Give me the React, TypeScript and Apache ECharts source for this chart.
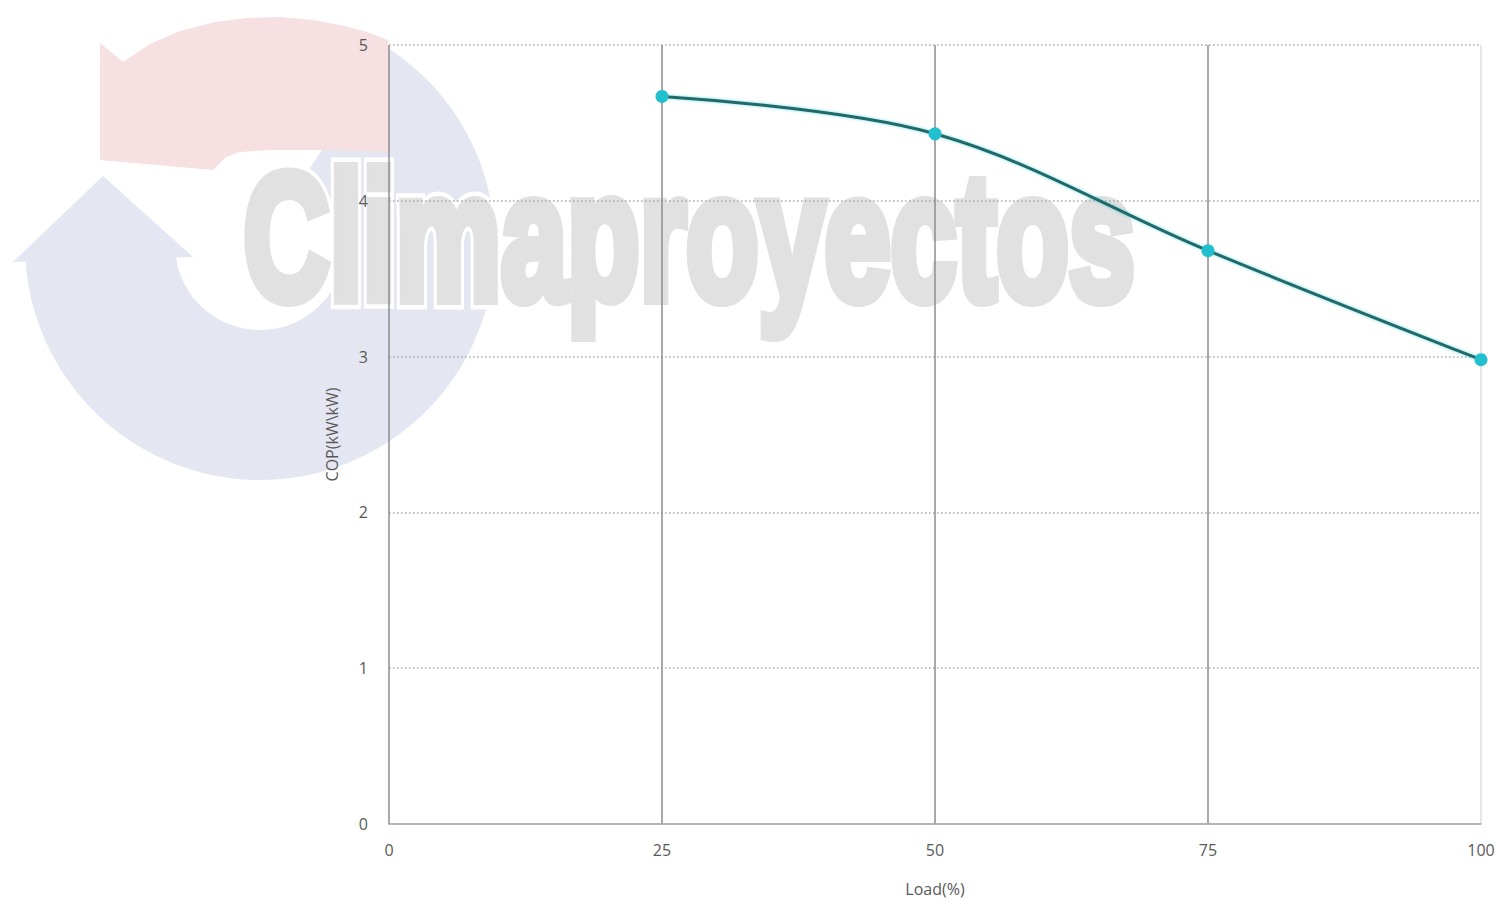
import React, { useEffect, useRef } from "react";
import * as echarts from "echarts";

const loads = [25, 50, 75, 100];
const cop = [4.67, 4.43, 3.68, 2.98];
const xMin = 0, xMax = 100, xStep = 25;
const yMin = 0, yMax = 5, yStep = 1;
const xName = "Load(%)";
const yName = "COP(kW\\kW)";
const watermark = "Climaproyectos";

function measure(text: string, font: string): number {
  const c = document.createElement("canvas");
  const ctx = c.getContext("2d");
  if (!ctx) return 1400;
  ctx.font = font;
  return ctx.measureText(text).width || 1400;
}

export default function App() {
  const bgRef = useRef<HTMLDivElement>(null);
  const ref = useRef<HTMLDivElement>(null);
  useEffect(() => {
    document.body.style.margin = "0";
    document.body.style.overflow = "hidden";
    if (!ref.current || !bgRef.current) return;
    const bg = echarts.init(bgRef.current, undefined, { renderer: "svg" });
    const chart = echarts.init(ref.current, undefined, { renderer: "svg" });

    const fontSize = 180;
    const wmFont = `bold ${fontSize}px 'Liberation Sans'`;
    const strokeW = 12;
    const wmScale = (898 - strokeW * 0.6) / measure(watermark, wmFont);
    const deg = Math.PI / 180;
    const pink = "#f7e0e2";
    const blue = "#e4e6f1";
    const textStyleBase = {
      text: watermark, x: 0, y: 0, font: wmFont,
      align: "left", verticalAlign: "middle",
    };

    bg.setOption({
      animation: false,
      backgroundColor: "#ffffff",
      graphic: [
        {
          type: "sector",
          shape: { cx: 260, cy: 245, r: 235, r0: 85, startAngle: -57 * deg, endAngle: 178 * deg, clockwise: true },
          style: { fill: blue },
        },
        {
          type: "polygon",
          shape: { points: [[13, 262], [103, 176], [193, 257]] },
          style: { fill: blue },
        },
        {
          type: "polygon",
          shape: {
            points: [
              [100, 43], [123, 62], [150, 44], [180, 31], [215, 22], [247, 18], [280, 17],
              [313, 20], [345, 26], [370, 33], [388, 40], [388, 152], [330, 150], [270, 150],
              [240, 152], [226, 157], [213, 170], [100, 160],
            ],
          },
          style: { fill: pink },
        },
        {
          type: "text",
          x: 240 + strokeW * 0.3, y: 236, scaleX: wmScale, scaleY: 1,
          style: { ...textStyleBase, fill: "#ffffff", stroke: "#ffffff", lineWidth: strokeW + 9, lineJoin: "round" },
        },
        {
          type: "text",
          x: 240 + strokeW * 0.3, y: 236, scaleX: wmScale, scaleY: 1,
          style: { ...textStyleBase, fill: "#e1e1e1", stroke: "#e1e1e1", lineWidth: strokeW, lineJoin: "round" },
        },
      ],
    });

    const option: any = {
      animation: false,
      backgroundColor: "transparent",
      textStyle: { fontFamily: "'Open Sans', sans-serif" },
      grid: { left: 389, right: 20, top: 45, bottom: 84, containLabel: false },
      xAxis: {
        type: "value", min: xMin, max: xMax, interval: xStep,
        name: xName, nameLocation: "middle", nameGap: 57,
        nameTextStyle: { color: "#595959", fontSize: 16, fontFamily: "'Open Sans', sans-serif" },
        axisLine: { show: true, lineStyle: { color: "#a6a6a6", width: 1.5 } },
        axisTick: { show: false },
        axisLabel: { color: "#595959", fontSize: 16, margin: 18, fontFamily: "'Open Sans', sans-serif" },
        splitLine: {
          show: true, showMinLine: true, showMaxLine: true,
          lineStyle: { color: ["#8c8c8c", "#8c8c8c", "#8c8c8c", "#8c8c8c", "#e0e0e0"], width: 1.5, type: "solid" },
        },
      },
      yAxis: {
        type: "value", min: yMin, max: yMax, interval: yStep,
        name: yName, nameLocation: "middle", nameGap: 49, nameRotate: 90,
        nameTextStyle: { color: "#595959", fontSize: 16, fontFamily: "'Open Sans', sans-serif" },
        axisLine: { show: false },
        axisTick: { show: false },
        axisLabel: { color: "#595959", fontSize: 16, margin: 21, fontFamily: "'Open Sans', sans-serif" },
        splitLine: { show: true, lineStyle: { color: "#a6a6a6", width: 1.5, type: [1.5, 2.5] } },
      },
      series: [
        {
          type: "line",
          data: loads.map((x, i) => [x, cop[i]]),
          smooth: 0.35,
          symbol: "circle", symbolSize: 13,
          itemStyle: { color: "#22bfcf" },
          lineStyle: { color: "#206a6a", width: 3, shadowColor: "rgba(34,191,207,0.6)", shadowBlur: 3 },
          z: 5,
        },
      ],
    };
    chart.setOption(option);
    return () => {
      chart.dispose();
      bg.dispose();
    };
  }, []);
  return (
    <div style={{ position: "relative", width: 1501, height: 908 }}>
      <div ref={bgRef} style={{ position: "absolute", left: 0, top: 0, width: 1501, height: 908 }} />
      <div ref={ref} style={{ position: "absolute", left: 0, top: 0, width: 1501, height: 908 }} />
    </div>
  );
}
